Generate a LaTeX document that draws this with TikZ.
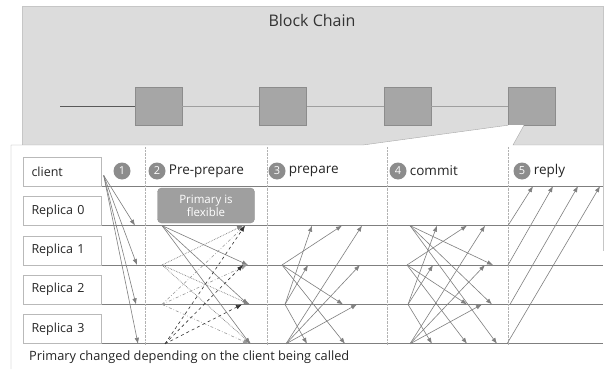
\documentclass[tikz,border=0pt]{standalone}
\usepackage{fontspec}
\setmainfont{Open Sans}
\usepackage{tikz}
\usetikzlibrary{calc,positioning,arrows.meta}

\definecolor{chainbg}{HTML}{DCDCDC}
\definecolor{blockfill}{HTML}{A6A6A6}
\definecolor{linegray}{HTML}{7F7F7F}
\definecolor{numgray}{HTML}{8C8C8C}

\tikzset{
  rowbox/.style={draw=gray!55, fill=white, text width=62pt, inner xsep=8pt,
    minimum height=29pt, align=left, text=black!85, font=\fontsize{12.5}{15}\selectfont},
  block/.style={draw=gray!90, fill=blockfill, minimum width=47pt, minimum height=38pt},
  num/.style={circle, fill=numgray, text=white, inner sep=0pt, minimum size=17pt,
    font=\fontsize{11}{11}\selectfont},
  phase/.style={right=3pt of #1, inner sep=0pt, text=black!85, font=\fontsize{13.5}{15}\selectfont},
  msg/.style={draw=linegray, line width=.6pt, -{Latex[length=6pt,width=4.5pt]}},
  sep/.style={draw=gray!60, densely dotted},
  rowline/.style={draw=linegray, line width=.7pt},
  ppr0/.style={draw=linegray},
  ppr1/.style={draw=black!50, line width=.7pt, densely dotted},
  ppr2/.style={draw=gray!80, dash dot},
  ppr3/.style={draw=black!80, dashed},
}

\begin{document}
\begin{tikzpicture}[x=1pt,y=-1pt]
  \useasboundingbox (0,0) rectangle (612,369);

  % block chain
  \draw[draw=gray!45, fill=chainbg] (22,6) rectangle (603,250);
  \node[text=black!80, font=\fontsize{16}{18}\selectfont] (title) at (312,21) {Block Chain};
  \node[block] (b1) at (158.5,106) {};
  \node[block, right=77pt of b1] (b2) {};
  \node[block, right=77pt of b2] (b3) {};
  \node[block, right=77pt of b3] (b4) {};
  \coordinate (start) at (60,106);
  \draw[black!65, thick] (start) -- (b1);
  \draw[gray!75] (b1) -- (b2) (b2) -- (b3) (b3) -- (b4);

  % zoom into the last block
  \coordinate (zl) at (363,145);
  \coordinate (zr) at (513,145);
  \coordinate (b4r) at ($(b4.south west)+(16,0)$);
  \fill[white] (11,145) rectangle (603,369);
  \fill[white] (b4.south west) -- (zl) -- (zr) -- (b4r) -- cycle;
  \draw[gray!70] (b4.south west) -- (zl) -- (11,145) -- (11,369);
  \draw[gray!70] (b4r) -- (zr) -- (603,145);

  % rows
  \node[rowbox] (client) at (62.5,171.5) {client};
  \node[rowbox, below=10pt of client] (r0) {Replica 0};
  \node[rowbox, below=10pt of r0] (r1) {Replica 1};
  \node[rowbox, below=10pt of r1] (r2) {Replica 2};
  \node[rowbox, below=10pt of r2] (r3) {Replica 3};
  \foreach \r in {client,r0,r1,r2,r3}
    \draw[rowline] (\r.south east) -- (603,0 |- \r.south);
  \foreach \x in {145,267,387,508}
    \draw[sep] (\x,147) -- (\x,345);

  % phase headers
  \node[num] (c1) at (122,171) {1};
  \node[num] (c2) at (157,171) {2};
  \node[phase=c2] (pre) {Pre-prepare};
  \node[num] (c3) at (277,171) {3};
  \node[phase=c3] (prep) {prepare};
  \node[num] (c4) at (398,171) {4};
  \node[phase=c4] (com) {commit};
  \node[num] (c5) at (522,171) {5};
  \node[phase=c5] (rep) {reply};
  \node[draw=gray!85, fill=gray!75, rounded corners=4pt, minimum width=97pt, minimum height=35pt,
    align=center, inner sep=1pt, text=white, font=\fontsize{11.5}{13}\selectfont]
    (prim) at (206,205.5) {Primary is\\flexible};

  % 1 request
  \coordinate (req) at ($(client.east)+(2,4)$);
  \foreach \b/\bx in {r0/135,r1/137,r2/136,r3/138}
    \draw[msg] (req) -- (\bx,0 |- \b.south);

  % 2 pre-prepare
  \foreach \a/\ax/\b/\bx in {r0/162/r1/248, r0/162/r2/248, r0/162/r3/250,
      r1/162/r0/243, r1/162/r2/250, r1/162/r3/251,
      r2/162/r0/245, r2/162/r1/247, r2/162/r3/249,
      r3/165/r0/245, r3/165/r1/243, r3/165/r2/242}
    \draw[msg, pp\a] (\ax,0 |- \a.south) -- (\bx,0 |- \b.south);

  % 3 prepare
  \foreach \a/\ax/\b/\bx in {r1/282/r0/342, r1/282/r2/343, r1/282/r3/345,
      r2/285/r0/312, r2/285/r1/308, r2/285/r3/307,
      r3/286/r0/362, r3/286/r1/360, r3/286/r2/357}
    \draw[msg] (\ax,0 |- \a.south) -- (\bx,0 |- \b.south);

  % 4 commit
  \foreach \a/\ax/\b/\bx in {r0/410/r1/493, r0/410/r2/492, r0/410/r3/497,
      r1/407/r0/467, r1/407/r2/467, r1/407/r3/467,
      r2/408/r0/437, r2/408/r1/433, r2/408/r3/432,
      r3/410/r0/485, r3/410/r1/485, r3/410/r2/482}
    \draw[msg] (\ax,0 |- \a.south) -- (\bx,0 |- \b.south);

  % 5 reply
  \foreach \a/\ax/\bx in {r0/508/533, r1/508/553, r2/510/578, r3/507/600}
    \draw[msg] (\ax,0 |- \a.south) -- (\bx,0 |- client.south);

  \node[anchor=west, inner sep=0pt, text=black!85, font=\fontsize{12.8}{14}\selectfont]
    (note) at (29,357) {Primary changed depending on the client being called};
\end{tikzpicture}
\end{document}
